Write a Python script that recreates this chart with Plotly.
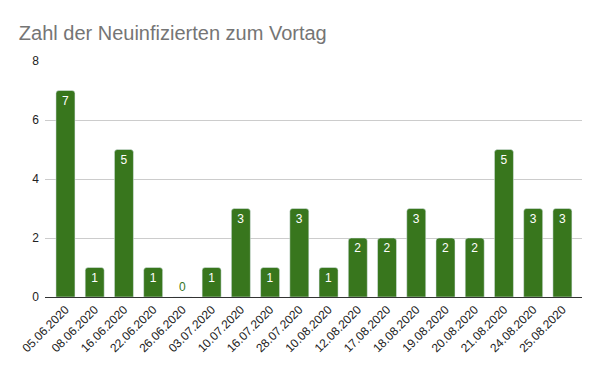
import plotly.graph_objects as go

dates = ["05.06.2020", "08.06.2020", "16.06.2020", "22.06.2020", "26.06.2020",
         "03.07.2020", "10.07.2020", "16.07.2020", "28.07.2020", "10.08.2020",
         "12.08.2020", "17.08.2020", "18.08.2020", "19.08.2020", "20.08.2020",
         "21.08.2020", "24.08.2020", "25.08.2020"]
values = [7, 1, 5, 1, 0, 1, 3, 1, 3, 1, 2, 2, 3, 2, 2, 5, 3, 3]

green = "#38761d"
positions = ["outside" if v == 0 else "inside" for v in values]
text_colors = [green if v == 0 else "white" for v in values]

fig = go.Figure(go.Bar(
    x=dates, y=values, marker_color=green,
    text=[str(v) for v in values], textposition=positions,
    insidetextanchor="end", textangle=0,
    textfont=dict(color=text_colors, size=12, family="Arial"),
    cliponaxis=False,
))

fig.update_layout(
    width=600, height=371,
    margin=dict(l=37, r=26, t=53, b=82),
    paper_bgcolor="white", plot_bgcolor="white",
    bargap=0.35, barcornerradius=3,
    title=dict(text="Zahl der Neuinfizierten zum Vortag", x=0.018, xanchor="left",
               y=0.933, yanchor="middle",
               font=dict(family="Arial", size=20, color="#757575")),
    font=dict(family="Arial", size=12, color="#222222"),
    showlegend=False,
)
fig.update_xaxes(tickangle=-45, showline=True, linecolor="#333333", linewidth=1,
                 range=[-0.7, len(dates) - 0.33],
                 ticks="", automargin=False, tickfont=dict(size=12, color="#222222"))
fig.update_yaxes(range=[0, 8], dtick=2, gridcolor="#cccccc", zeroline=False,
                 showline=False, ticks="", ticklabelstandoff=5, automargin=False,
                 tickfont=dict(size=12, color="#222222"))

fig.write_html("out.html")
